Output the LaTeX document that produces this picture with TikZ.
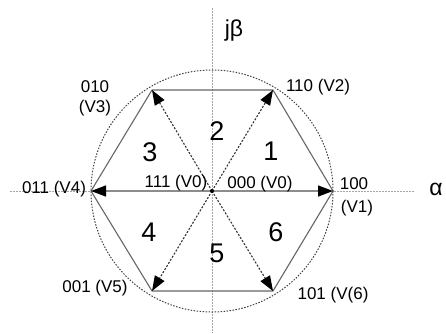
\documentclass[tikz,border=0pt]{standalone}
\usepackage{fontspec}
\setmainfont{Liberation Sans}
\usetikzlibrary{arrows.meta}
\begin{document}
\begin{tikzpicture}[x=1pt,y=-1pt,
  axisline/.style={draw=gray!70, dash pattern=on 1.5pt off 1.5pt, line width=1pt},
  hexedge/.style={draw=black!60, line width=1.1pt},
  vecarrow/.style={draw=black!80, dash pattern=on 2pt off 1.6pt, line width=1.1pt, -{Triangle[length=15pt,width=11pt,black]}},
  zeroarrow/.style={draw=black!45, line width=1.3pt, -{Triangle[length=15pt,width=11pt,black]}},
  lbl/.style={font=\fontsize{17}{18}\selectfont, inner sep=0pt},
  sect/.style={font=\fontsize{27}{28}\selectfont, inner sep=0pt},
  axlbl/.style={font=\fontsize{23}{24}\selectfont, inner sep=0pt}]
\useasboundingbox (0,0) rectangle (446,333);
% axes
\coordinate (axL) at (10,191);
\coordinate (axR) at (415,191);
\coordinate (axT) at (212,8);
\coordinate (axB) at (212,333);
\draw[axisline] (axL) -- (axR);
\draw[axisline] (axT) -- (axB);
\node[axlbl] (alpha) at (436,189) {α};
\node[axlbl] (jb) at (234,31) {jβ};
% center and vertices
\coordinate (O) at (212,191);
\coordinate (V1) at (333,191);
\coordinate (V2) at (273,90);
\coordinate (V3) at (152,90);
\coordinate (V4) at (91,191);
\coordinate (V5) at (152,291);
\coordinate (V6) at (273,291);
% circle
\draw[black!75, dash pattern=on 1.5pt off 1.5pt, line width=1pt] (O) circle[radius=121];
% hexagon
\draw[hexedge] (V1) -- (V2) -- (V3) -- (V4) -- (V5) -- (V6) -- cycle;
% vectors
\draw[vecarrow] (O) -- (V2);
\draw[vecarrow] (O) -- (V3);
\draw[vecarrow] (O) -- (V5);
\draw[vecarrow] (O) -- (V6);
\draw[zeroarrow] (O) -- (V1);
\draw[zeroarrow] (O) -- (V4);
\fill[black] (O) circle[radius=2];
% labels
\node[lbl] (l3a) at (95,87) {010};
\node[lbl] (l3b) at (95,108) {(V3)};
\node[lbl] (l2) at (318,87) {110 (V2)};
\node[lbl] (l4) at (54,189) {011 (V4)};
\node[lbl] (l0a) at (176,183) {111 (V0)};
\node[lbl] (l0b) at (260,184) {000 (V0)};
\node[lbl] (l1a) at (354,184) {100};
\node[lbl] (l1b) at (357,208) {(V1)};
\node[lbl] (l5) at (95,288) {001 (V5)};
\node[lbl] (l6) at (333,295) {101 (V(6)};
% sectors
\node[sect] (s1) at (271,151) {1};
\node[sect] (s2) at (217,131) {2};
\node[sect] (s3) at (150,152) {3};
\node[sect] (s4) at (149,232) {4};
\node[sect] (s5) at (217,253) {5};
\node[sect] (s6) at (276,232) {6};
\end{tikzpicture}
\end{document}
